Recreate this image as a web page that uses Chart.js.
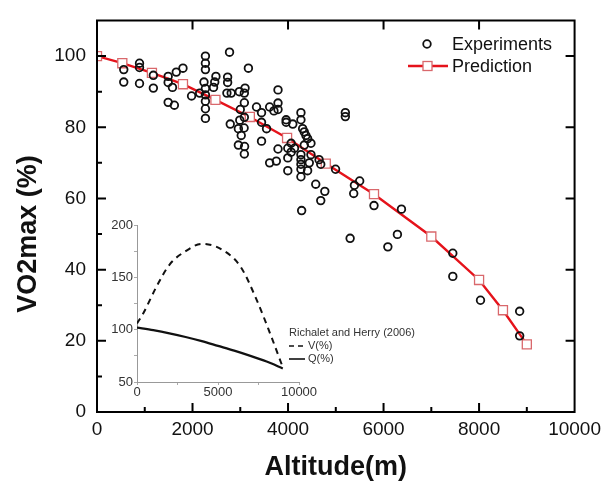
<!DOCTYPE html>
<html>
<head>
<meta charset="utf-8">
<script src="https://cdn.jsdelivr.net/npm/chart.js@4.4.0/dist/chart.umd.min.js"></script>
<style>
html, body { margin: 0; padding: 0; background: #fff; }
#wrap { position: relative; width: 609px; height: 484px; overflow: hidden; }
#main { position: absolute; left: 0; top: 0; }
#inset { position: absolute; left: 60px; top: 205px; }
</style>
</head>
<body>
<div id="wrap">
  <canvas id="main" width="609" height="484"></canvas>
  <canvas id="inset" width="370" height="200"></canvas>
</div>
<script>
// measured points (altitude m, VO2max %)
const expAlt = [
    560, 560, 890, 890, 890, 1180, 1180, 1490, 1490, 1660, 1800, 1580, 1490, 1620, 1980,
    2150, 2270, 2270, 2270, 2240, 2270, 2270, 2270, 2270, 2270, 2490, 2465, 2440,
    2775, 2735, 2735, 2720, 2810, 3170, 2980, 3100, 3085, 3085, 3000, 3085, 2990, 2790, 2960, 3080, 3020, 2960, 3090, 3085,
    3340, 3445, 3445, 3550, 3445, 3615, 3790, 3790, 3790, 3790, 3615, 3755, 3705,
    3960, 3960, 4100, 4270, 4270, 4306, 4340, 4375, 4410, 4480, 4340, 4065, 3995, 4065, 4135, 3995, 3995,
    4270, 4270, 4270, 4270, 4270, 4445, 4480, 4650, 4685, 4410,
    4580, 4770, 4685, 4285, 4995, 5200, 5200, 5390, 5500, 5375, 5800, 6375, 6290, 6090, 5300,
    7450, 7450, 8030, 8850, 8850
];
const expVO2 = [
    96.2, 92.7, 98.0, 96.8, 92.3, 94.6, 91.0, 94.3, 92.6, 95.5, 96.6, 91.2, 87.0, 86.2, 88.8,
    89.6, 100.0, 98.0, 96.2, 92.7, 90.9, 89.1, 87.3, 85.2, 82.5, 94.3, 92.7, 91.2,
    101.1, 94.1, 92.6, 89.6, 89.6, 96.6, 90.0, 91.0, 89.6, 86.9, 85.0, 82.8, 82.0, 80.9, 79.6, 79.8, 77.7, 75.0, 74.6, 72.5,
    85.7, 84.1, 81.4, 79.6, 76.1, 85.7, 90.5, 86.8, 85.0, 73.9, 70.0, 70.5, 84.6,
    82.1, 81.4, 80.9, 84.1, 82.1, 79.6, 78.7, 77.7, 76.8, 75.5, 75.0, 75.5, 74.1, 73.0, 74.1, 71.4, 67.8,
    72.3, 70.9, 69.6, 68.2, 66.1, 70.0, 72.3, 70.9, 69.6, 67.8,
    64.0, 62.0, 59.4, 56.6, 68.2, 84.1, 83.0, 63.7, 64.9, 61.4, 58.0, 57.0, 49.9, 46.4, 48.8,
    44.6, 38.1, 31.4, 28.3, 21.4
];

// model prediction
const predAlt = [0, 530, 1150, 1800, 2480, 3200, 3980, 4790, 5800, 7000, 8000, 8500, 9000];
const predVO2 = [100, 98.0, 95.3, 92.1, 87.7, 82.9, 77.0, 69.8, 61.2, 49.3, 37.1, 28.6, 19.0];

// inset: Richalet and Herry (2006)
const vAlt = [0, 400, 1200, 2000, 3000, 4000, 5300, 6400, 7400, 8200, 9000];
const vPct = [106, 116, 141, 162, 175, 182, 176, 160, 128, 97, 64];
const qAlt = [0, 1000, 2000, 3000, 4000, 5000, 6000, 7000, 8000, 9000];
const qPct = [102, 99.5, 96.5, 93, 89, 84.5, 80, 75, 69.5, 63];

const FONT = '"Liberation Sans", Arial, sans-serif';
const RED = '#e5131b';
const SQ = '#d9686c';

const pts = (xs, ys) => xs.map((x, i) => ({ x, y: ys[i] }));

// frame + inward ticks, axis titles, legend
const mainDeco = {
    id: 'mainDeco',
    afterDraw(chart) {
        const { ctx, chartArea: a, scales: { x, y } } = chart;
        ctx.save();
        ctx.strokeStyle = '#000';
        ctx.lineWidth = 2;
        ctx.strokeRect(a.left, a.top, a.right - a.left, a.bottom - a.top);
        ctx.beginPath();
        x.ticks.forEach(t => {
            if (t.value <= 0 || t.value >= 10000) return;
            const px = x.getPixelForValue(t.value);
            const major = t.value % 2000 === 0;
            ctx.moveTo(px, a.bottom); ctx.lineTo(px, a.bottom - (major ? 9 : 5));
            if (major) { ctx.moveTo(px, a.top); ctx.lineTo(px, a.top + 9); }
        });
        y.ticks.forEach(t => {
            if (t.value <= 0 || t.value >= 110) return;
            const py = y.getPixelForValue(t.value);
            const major = t.value % 20 === 0;
            ctx.moveTo(a.left, py); ctx.lineTo(a.left + (major ? 9 : 5), py);
            if (major) { ctx.moveTo(a.right, py); ctx.lineTo(a.right - 9, py); }
        });
        ctx.stroke();

        // axis titles
        ctx.fillStyle = '#111';
        ctx.font = 'bold 27px ' + FONT;
        ctx.textAlign = 'center';
        ctx.textBaseline = 'middle';
        ctx.fillText('Altitude(m)', (a.left + a.right) / 2, 468);
        ctx.save();
        ctx.translate(29, 234);
        ctx.rotate(-Math.PI / 2);
        ctx.fillText('VO2max (%)', 0, 0);
        ctx.restore();

        // legend
        const ds = chart.data.datasets;
        ctx.font = '18px ' + FONT;
        ctx.textAlign = 'left';
        ctx.fillStyle = '#111';
        ctx.lineWidth = 1.8;
        ctx.strokeStyle = '#111';
        ctx.beginPath(); ctx.arc(427, 44, 3.8, 0, Math.PI * 2); ctx.stroke();
        ctx.fillText(ds[0].label, 452, 45);
        ctx.strokeStyle = RED; ctx.lineWidth = 2.4;
        ctx.beginPath(); ctx.moveTo(408, 66); ctx.lineTo(448, 66); ctx.stroke();
        ctx.fillStyle = '#fff'; ctx.strokeStyle = SQ; ctx.lineWidth = 1.3;
        ctx.fillRect(423, 61.5, 9, 9); ctx.strokeRect(423, 61.5, 9, 9);
        ctx.fillStyle = '#111';
        ctx.fillText(ds[1].label, 452, 67);
        ctx.restore();
    }
};

new Chart(document.getElementById('main'), {
    data: {
        datasets: [
            {
                type: 'scatter', label: 'Experiments', data: pts(expAlt, expVO2),
                pointStyle: 'circle', pointRadius: 3.8, pointBorderWidth: 1.8,
                pointBorderColor: '#111', pointBackgroundColor: 'rgba(0,0,0,0)'
            },
            {
                type: 'line', label: 'Prediction', data: pts(predAlt, predVO2),
                borderColor: RED, borderWidth: 2.4, tension: 0,
                pointStyle: 'rect', pointRadius: 6.4, pointBorderWidth: 1.3,
                pointBorderColor: SQ, pointBackgroundColor: '#fff'
            }
        ]
    },
    options: {
        responsive: false, animation: false,
        layout: { padding: { left: 0, top: 10, right: 29, bottom: 0 } },
        plugins: { legend: { display: false }, tooltip: { enabled: false } },
        scales: {
            x: {
                type: 'linear', min: 0, max: 10000,
                grid: { display: false, drawTicks: false }, border: { display: false },
                ticks: {
                    stepSize: 1000, autoSkip: false, maxRotation: 0, padding: 8,
                    color: '#111', font: { family: FONT, size: 19, lineHeight: 1 },
                    callback: v => v % 2000 === 0 ? String(v) : ''
                },
                afterFit: s => { s.height = 72; }
            },
            y: {
                type: 'linear', min: 0, max: 110,
                grid: { display: false, drawTicks: false }, border: { display: false },
                ticks: {
                    stepSize: 10, autoSkip: false, padding: 11,
                    color: '#111', font: { family: FONT, size: 19, lineHeight: 1 },
                    callback: v => (v % 20 === 0 && v <= 100) ? String(v) : ''
                },
                afterFit: s => { s.width = 97; }
            }
        }
    },
    plugins: [mainDeco]
});

// inset legend
const insetDeco = {
    id: 'insetDeco',
    afterDraw(chart) {
        const { ctx } = chart;
        const ox = 60, oy = 205;
        ctx.save();
        ctx.fillStyle = '#333';
        ctx.font = '11px ' + FONT;
        ctx.textBaseline = 'middle';
        ctx.fillText('Richalet and Herry (2006)', 289 - ox, 333 - oy);
        ctx.strokeStyle = '#111'; ctx.lineWidth = 1.6;
        ctx.setLineDash([5, 4]);
        ctx.beginPath(); ctx.moveTo(289 - ox, 346 - oy); ctx.lineTo(305 - ox, 346 - oy); ctx.stroke();
        ctx.setLineDash([]);
        ctx.beginPath(); ctx.moveTo(289 - ox, 359 - oy); ctx.lineTo(305 - ox, 359 - oy); ctx.stroke();
        ctx.fillText(chart.data.datasets[0].label, 308 - ox, 346 - oy);
        ctx.fillText(chart.data.datasets[1].label, 308 - ox, 359 - oy);
        ctx.restore();
    }
};

new Chart(document.getElementById('inset'), {
    type: 'line',
    data: {
        datasets: [
            {
                label: 'V(%)', data: pts(vAlt, vPct),
                borderColor: '#111', borderWidth: 2, borderDash: [6, 5],
                cubicInterpolationMode: 'monotone', pointRadius: 0
            },
            {
                label: 'Q(%)', data: pts(qAlt, qPct),
                borderColor: '#111', borderWidth: 2.2, tension: 0.3, pointRadius: 0
            }
        ]
    },
    options: {
        responsive: false, animation: false,
        layout: { padding: { left: 0, top: 20, right: 131, bottom: 0 } },
        plugins: { legend: { display: false }, tooltip: { enabled: false } },
        scales: {
            x: {
                type: 'linear', min: 0, max: 10000,
                grid: { display: true, drawOnChartArea: false, tickLength: 3, color: '#aaa' },
                border: { display: true, color: '#999', width: 1 },
                ticks: {
                    stepSize: 2500, autoSkip: false, maxRotation: 0, padding: 1,
                    color: '#333', font: { family: FONT, size: 13, lineHeight: 1 },
                    callback: v => v % 5000 === 0 ? String(v) : ''
                },
                afterFit: s => { s.height = 23; }
            },
            y: {
                type: 'linear', min: 50, max: 200,
                grid: { display: true, drawOnChartArea: false, tickLength: 3, color: '#aaa' },
                border: { display: true, color: '#999', width: 1 },
                ticks: {
                    stepSize: 25, autoSkip: false, padding: 1,
                    color: '#333', font: { family: FONT, size: 13, lineHeight: 1 },
                    callback: v => v % 50 === 0 ? String(v) : ''
                },
                afterFit: s => { s.width = 77; }
            }
        }
    },
    plugins: [insetDeco]
});
</script>
</body>
</html>
